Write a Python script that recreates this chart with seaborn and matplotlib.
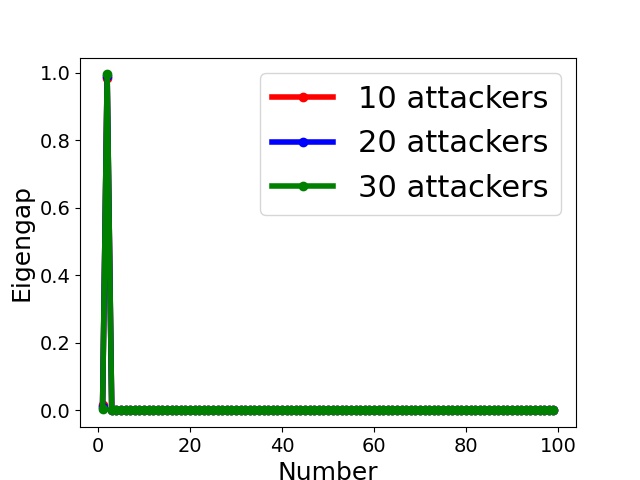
import matplotlib
matplotlib.use("Agg")
import matplotlib.pyplot as plt
import seaborn as sns
import numpy as np
import pandas as pd

number = list(range(1, 100))
head_10 = [0.015, 0.985]
head_20 = [0.01, 0.99]
head_30 = [0.005, 0.995]
tail = [0.0] * 97
series = {
    "10 attackers": head_10 + tail,
    "20 attackers": head_20 + tail,
    "30 attackers": head_30 + tail,
}
colors = ["red", "blue", "green"]

fig, ax = plt.subplots(figsize=(6.4, 4.8), dpi=100)
for (label, vals), c in zip(series.items(), colors):
    df = pd.DataFrame({"Number": number, "Eigengap": vals})
    sns.lineplot(data=df, x="Number", y="Eigengap", ax=ax, color=c, marker="o",
                 linewidth=4, markersize=6, markeredgewidth=1, markeredgecolor=c,
                 label=label)

ax.set_xlabel("Number", fontsize=18)
ax.set_ylabel("Eigengap", fontsize=18)
ax.tick_params(labelsize=14)
ax.legend(fontsize=22)
fig.savefig("out.png", dpi=100)
